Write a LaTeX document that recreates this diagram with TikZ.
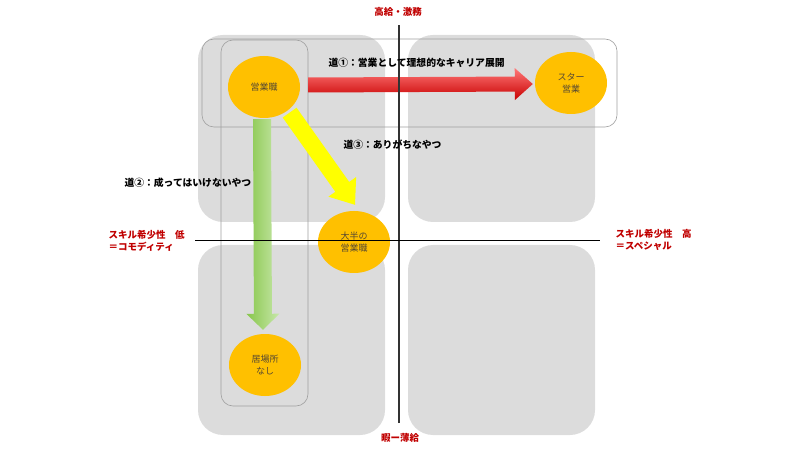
\documentclass[tikz,border=0pt]{standalone}
\usepackage{fontspec}
\setmainfont{Noto Sans CJK JP}
\usetikzlibrary{calc}
\usetikzlibrary{shapes.geometric}
\definecolor{quadgray}{RGB}{220,220,220}
\definecolor{bandgray}{RGB}{160,160,160}
\definecolor{postorange}{RGB}{255,192,0}
\definecolor{posttext}{RGB}{85,72,50}
\definecolor{axisred}{RGB}{192,0,0}
\definecolor{redlight}{RGB}{255,120,120}
\definecolor{redmid}{RGB}{245,0,0}
\definecolor{reddark}{RGB}{200,0,0}
\definecolor{greenleft}{RGB}{135,198,75}
\definecolor{greenmid}{RGB}{115,185,45}
\definecolor{greenright}{RGB}{200,232,170}
\definecolor{roadyellow}{RGB}{255,255,0}
\tikzset{
  quad/.style={fill=quadgray, rounded corners=25pt},
  band/.style={draw=bandgray, line width=0.6pt, rounded corners=12pt},
  post/.style={ellipse, fill=postorange, minimum width=72pt, minimum height=62pt, inner sep=0pt, align=center, text=posttext, font=\fontsize{9}{11.5}\selectfont},
  road/.style={anchor=west, font=\fontsize{9.8}{12}\selectfont\bfseries},
  axislabel/.style={text=axisred, align=left, font=\fontsize{9.5}{11.5}\selectfont\bfseries},
  blockarrow/.style n args={3}{to path={
    let \p1=($(\tikztotarget)-(\tikztostart)$), \n1={atan2(\y1,\x1)} in
    ($(\tikztostart)+(\n1+90:#1)$) -- ($(\tikztotarget)+(\n1+180:#3)+(\n1+90:#1)$)
    -- ($(\tikztotarget)+(\n1+180:#3)+(\n1+90:#2)$) -- (\tikztotarget)
    -- ($(\tikztotarget)+(\n1+180:#3)+(\n1-90:#2)$) -- ($(\tikztotarget)+(\n1+180:#3)+(\n1-90:#1)$)
    -- ($(\tikztostart)+(\n1-90:#1)$) -- cycle}}
}

\begin{document}
\begin{tikzpicture}[x=1pt,y=1pt]
\useasboundingbox (0,0) rectangle (800,450);
\fill[quad] (198,228) rectangle (385,415);
\fill[quad] (408,228) rectangle (595,415);
\fill[quad] (198,15) rectangle (385,205);
\fill[quad] (408,15) rectangle (595,205);
\draw[band] (202,323) rectangle (617,411);
\draw[band] (221,44) rectangle (308,410);
\node[post] (sales) at (264,363) {営業職};
\node[post] (star) at (571,367) {スター\\営業};
\node[post] (majority) at (354,208) {大半の\\営業職};
\node[post] (nowhere) at (265,85) {居場所\\なし};
\coordinate (redtail) at ($(sales.east)+(8,2)$);
\coordinate (redtip) at ($(star.west)+(-2,-1)$);
\coordinate (yellowtail) at ($(sales.-45)+(2,-2)$);
\coordinate (yellowtip) at ($(majority.north)+(1,6)$);
\coordinate (greentail) at ($(sales.south)+(-2,-1)$);
\coordinate (greentip) at ($(nowhere.north)+(-2,4)$);
\shade[blockarrow={7.5}{16}{18}, top color=redlight, middle color=redmid, bottom color=reddark] (redtail) to (redtip);
\fill[roadyellow, blockarrow={8.5}{17}{22}] (yellowtail) to (yellowtip);
\shade[blockarrow={9}{16.5}{16}, left color=greenleft, middle color=greenmid, right color=greenright] (greentail) to (greentip);
\draw[line width=1.5pt, black!80] (399,27) -- (399,425);
\draw[line width=0.8pt] (195,210) -- (600,210);
\node[axislabel] (toplabel) at (398,438) {高給・激務};
\node[axislabel] (bottomlabel) at (400,12) {暇ー薄給};
\node[axislabel, anchor=west] (leftlabel) at (105,209) {スキル希少性　低\\＝コモディティ};
\node[axislabel, anchor=west] (rightlabel) at (612,210) {スキル希少性　高\\＝スペシャル};
\node[road] (road1) at (325,387) {道①：営業として理想的なキャリア展開};
\node[road] (road3) at (340,305) {道③：ありがちなやつ};
\node[road] (road2) at (121,267) {道②：成ってはいけないやつ};
\end{tikzpicture}
\end{document}
